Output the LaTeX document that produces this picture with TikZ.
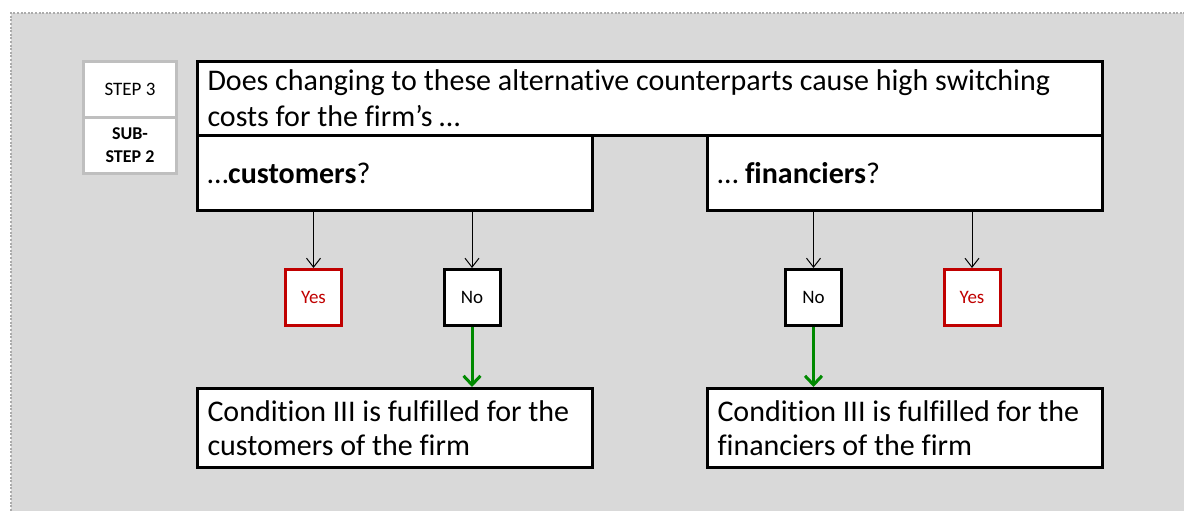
\documentclass[tikz,border=0pt]{standalone}
\usepackage{fontspec}
\setmainfont{Carlito}[Ligatures=NoCommon]
\usetikzlibrary{arrows.meta}

\definecolor{panelgray}{HTML}{D9D9D9}
\definecolor{framegray}{HTML}{ABABAB}
\definecolor{cellgray}{HTML}{BFBFBF}
\definecolor{nored}{HTML}{C00000}
\definecolor{okgreen}{HTML}{008A00}

\tikzset{
  bigbox/.style={draw=black, fill=white, line width=3pt, rectangle,
    inner xsep=10pt, inner ysep=0pt, align=flush left,
    font=\fontsize{30}{34}\selectfont},
  stepcell/.style={draw=cellgray, fill=white, line width=3pt, rectangle,
    minimum width=93pt, minimum height=56pt, inner sep=0pt, align=center},
  answer/.style={draw=black, fill=white, line width=3pt, rectangle,
    minimum width=56pt, minimum height=56pt, inner sep=0pt,
    font=\fontsize{19}{23}\selectfont},
  yesbox/.style={answer, draw=nored, text=nored},
  nobox/.style={answer},
  flow/.style={draw=black, line width=1pt,
    -{Straight Barb[length=9pt,width=14pt]}},
  goflow/.style={draw=okgreen, line width=3pt,
    -{Straight Barb[length=9pt,width=17pt]}},
}

\begin{document}
\begin{tikzpicture}[x=1pt,y=-1pt]
\useasboundingbox (0,0) rectangle (1184,511);

% panel with dotted frame on the top and left edges
\fill[panelgray] (11,13) rectangle (1184,511);
\draw[framegray, line width=2pt, dash pattern=on 2pt off 1.6pt]
  (11,511) -- (11,13) -- (1184,13);

% step label
\node[stepcell, font=\fontsize{19}{23}\selectfont] (stepa) at (130,89.5) {STEP 3};
\node[stepcell, font=\fontsize{18}{23}\selectfont\bfseries] (stepb) at (130,145.5) {SUB-\\STEP 2};

% question and its two branches
\node[bigbox, minimum height=74pt, text width=885pt, font=\fontsize{30}{36}\selectfont]
  (question) at (650,98.5)
  {Does changing to these alternative counterparts cause high switching\\costs for the firm’s …};
\node[bigbox, minimum height=75pt, text width=375pt] (cust) at (395,173)
  {…\textbf{customers}?};
\node[bigbox, minimum height=75pt, text width=375pt] (fin) at (905,173)
  {… \textbf{financiers}?};

% answers
\node[yesbox] (yesc) at (313.5,297.5) {Yes};
\node[nobox]  (noc)  at (472,297.5)   {No};
\node[nobox]  (nof)  at (813.5,297.5) {No};
\node[yesbox] (yesf) at (972,297.5)   {Yes};

% outcomes
\node[bigbox, minimum height=79pt, text width=375pt] (condc) at (395,428)
  {Condition III is fulfilled for the\\customers of the firm};
\node[bigbox, minimum height=79pt, text width=375pt] (condf) at (905,428)
  {Condition III is fulfilled for the\\financiers of the firm};

% connectors
\draw[flow] (cust.south -| yesc) -- (yesc.north);
\draw[flow] (cust.south -| noc) -- (noc.north);
\draw[flow] (fin.south -| nof) -- (nof.north);
\draw[flow] (fin.south -| yesf) -- (yesf.north);
\draw[goflow] (noc.south) -- (condc.north -| noc);
\draw[goflow] (nof.south) -- (condf.north -| nof);
\end{tikzpicture}
\end{document}
